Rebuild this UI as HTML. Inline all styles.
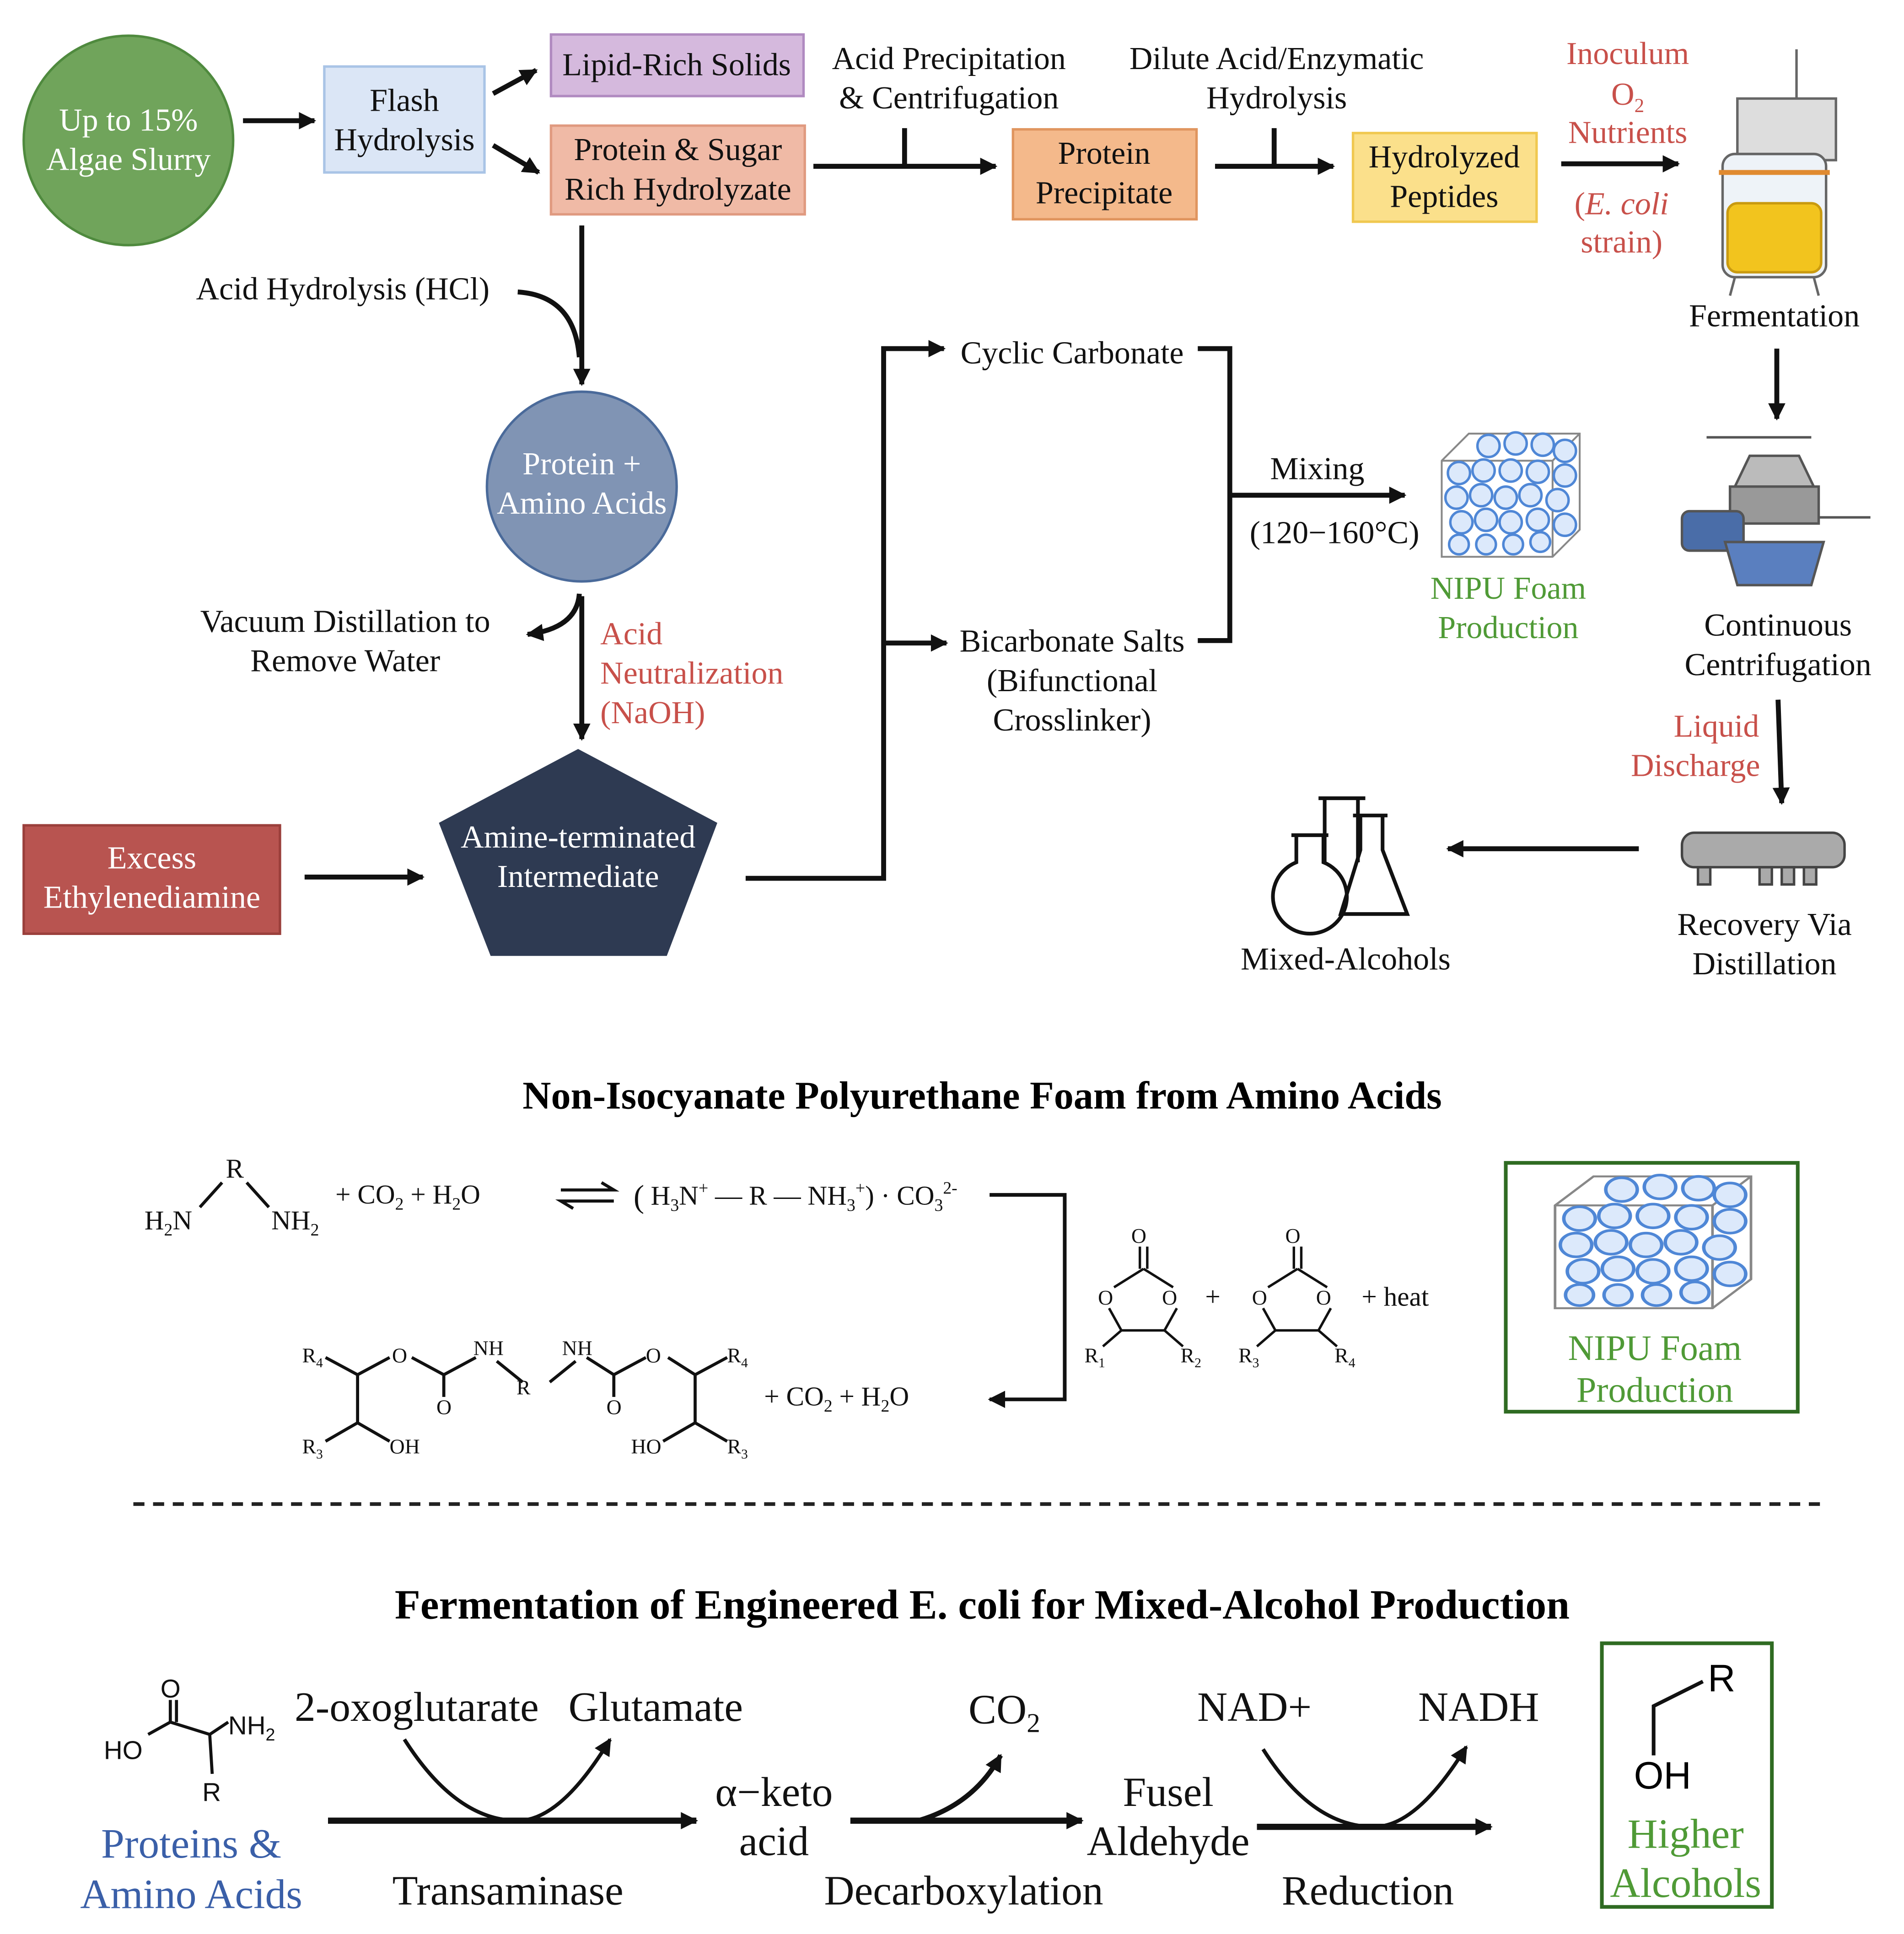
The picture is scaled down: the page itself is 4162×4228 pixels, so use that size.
<!DOCTYPE html>
<html><head><meta charset="utf-8"><style>
html,body{margin:0;padding:0;background:#fff;}
svg{display:block;}
text{font-family:"Liberation Serif",serif;}
</style></head><body>
<svg xmlns="http://www.w3.org/2000/svg" width="4162" height="4228" viewBox="0 0 1545 1570">
<defs>
<marker id="a2" viewBox="0 0 10 10" markerWidth="16" markerHeight="14" refX="9" refY="5" orient="auto" markerUnits="userSpaceOnUse"><path d="M0,0 L10,5 L0,10 Z" fill="#111"/></marker>
<g id="foam">
<path d="M0,22 L22,0 L112,0 L112,78 L90,100 L0,100 Z" fill="#fff" stroke="#888" stroke-width="1.5"/>
<path d="M0,22 L90,22 L112,0 M90,22 L90,100" fill="none" stroke="#888" stroke-width="1.5"/>
<g fill="#dce9fb" stroke="#4f87d6" stroke-width="2">
<circle cx="38" cy="10" r="9"/><circle cx="60" cy="8" r="9"/><circle cx="82" cy="9" r="9"/><circle cx="100" cy="14" r="9"/>
<circle cx="14" cy="32" r="9"/><circle cx="34" cy="30" r="9"/><circle cx="56" cy="30" r="9"/><circle cx="78" cy="31" r="9"/><circle cx="100" cy="34" r="9"/>
<circle cx="12" cy="52" r="9"/><circle cx="32" cy="50" r="9"/><circle cx="52" cy="52" r="9"/><circle cx="72" cy="50" r="9"/><circle cx="94" cy="54" r="9"/>
<circle cx="16" cy="72" r="9"/><circle cx="36" cy="70" r="9"/><circle cx="56" cy="72" r="9"/><circle cx="78" cy="70" r="9"/><circle cx="100" cy="74" r="9"/>
<circle cx="14" cy="90" r="8"/><circle cx="36" cy="90" r="8"/><circle cx="58" cy="90" r="8"/><circle cx="80" cy="88" r="8"/>
</g></g>
</defs>
<rect width="1560" height="1585" fill="#fff"/>

<g font-size="26" text-anchor="middle" fill="#111">
<circle cx="104" cy="114" r="85" fill="#70a45b" stroke="#4f8a3e" stroke-width="2"/>
<text x="104" y="106" fill="#fff">Up to 15%</text><text x="104" y="138" fill="#fff">Algae Slurry</text>
<line x1="197" y1="98" x2="255" y2="98" stroke="#111" stroke-width="4" marker-end="url(#a2)"/>
<rect x="263" y="54" width="130" height="86" fill="#dbe6f6" stroke="#a9c4e6" stroke-width="2"/>
<text x="328" y="90">Flash</text><text x="328" y="122">Hydrolysis</text>
<line x1="400" y1="76" x2="435" y2="57" stroke="#111" stroke-width="4" marker-end="url(#a2)"/>
<line x1="400" y1="118" x2="437" y2="140" stroke="#111" stroke-width="4" marker-end="url(#a2)"/>
<rect x="447" y="28" width="205" height="50" fill="#d5b9dd" stroke="#b08ac0" stroke-width="2"/>
<text x="549" y="61">Lipid-Rich Solids</text>
<rect x="447" y="102" width="206" height="72" fill="#f0baa6" stroke="#e09a80" stroke-width="2"/>
<text x="550" y="130">Protein &amp; Sugar</text><text x="550" y="162">Rich Hydrolyzate</text>
<text x="770" y="56">Acid Precipitation</text><text x="770" y="88">&amp; Centrifugation</text>
<line x1="660" y1="135" x2="808" y2="135" stroke="#111" stroke-width="4" marker-end="url(#a2)"/>
<line x1="734" y1="104" x2="734" y2="135" stroke="#111" stroke-width="4"/>
<rect x="822" y="105" width="149" height="73" fill="#f4b98b" stroke="#e0955f" stroke-width="2"/>
<text x="896" y="133">Protein</text><text x="896" y="165">Precipitate</text>
<text x="1036" y="56">Dilute Acid/Enzymatic</text><text x="1036" y="88">Hydrolysis</text>
<line x1="986" y1="135" x2="1082" y2="135" stroke="#111" stroke-width="4" marker-end="url(#a2)"/>
<line x1="1034" y1="104" x2="1034" y2="135" stroke="#111" stroke-width="4"/>
<rect x="1098" y="108" width="149" height="72" fill="#fbe08b" stroke="#f0c850" stroke-width="2"/>
<text x="1172" y="136">Hydrolyzed</text><text x="1172" y="168">Peptides</text>
<g fill="#c8504a">
<text x="1321" y="52">Inoculum</text><text x="1321" y="85">O<tspan font-size="16" dy="6">2</tspan></text><text x="1321" y="116">Nutrients</text>
<text x="1316" y="174">(<tspan font-style="italic">E. coli</tspan></text><text x="1316" y="205">strain)</text>
</g>
<line x1="1267" y1="133" x2="1362" y2="133" stroke="#111" stroke-width="4" marker-end="url(#a2)"/>
<g stroke="#666" stroke-width="2">
<line x1="1458" y1="40" x2="1458" y2="85"/>
<rect x="1410" y="80" width="80" height="50" fill="#ddd"/>
<rect x="1398" y="125" width="84" height="100" rx="10" fill="#eef3f8"/>
<rect x="1402" y="165" width="76" height="56" rx="8" fill="#f2c41e" stroke="#c99a10"/>
<line x1="1395" y1="140" x2="1485" y2="140" stroke="#e08a30" stroke-width="4"/>
<line x1="1408" y1="225" x2="1404" y2="240"/><line x1="1472" y1="225" x2="1476" y2="240"/>
</g>
<text x="1440" y="265">Fermentation</text>

<line x1="472" y1="183" x2="472" y2="312" stroke="#111" stroke-width="4" marker-end="url(#a2)"/>
<text x="278" y="243">Acid Hydrolysis (HCl)</text>
<path d="M420,237 Q466,240 470,290" fill="none" stroke="#111" stroke-width="4"/>
<circle cx="472" cy="395" r="77" fill="#8094b4" stroke="#4a6a9a" stroke-width="2"/>
<text x="472" y="385" fill="#fff">Protein +</text><text x="472" y="417" fill="#fff">Amino Acids</text>
<line x1="472" y1="484" x2="472" y2="600" stroke="#111" stroke-width="4" marker-end="url(#a2)"/>
<path d="M470,482 Q468,510 428,515" fill="none" stroke="#111" stroke-width="4" marker-end="url(#a2)"/>
<text x="280" y="513">Vacuum Distillation to</text><text x="280" y="545">Remove Water</text>
<g fill="#c8504a" text-anchor="start"><text x="487" y="523">Acid</text><text x="487" y="555">Neutralization</text><text x="487" y="587">(NaOH)</text></g>
<polygon points="469,608 582,668 541,776 398,776 356,668" fill="#2e3a52"/>
<text x="469" y="688" fill="#fff">Amine-terminated</text><text x="469" y="720" fill="#fff">Intermediate</text>
<rect x="19" y="670" width="208" height="88" fill="#b85450" stroke="#9a3f3b" stroke-width="2"/>
<text x="123" y="705" fill="#fff">Excess</text><text x="123" y="737" fill="#fff">Ethylenediamine</text>
<line x1="247" y1="712" x2="343" y2="712" stroke="#111" stroke-width="4" marker-end="url(#a2)"/>

<path d="M605,713 L717,713 L717,283 L766,283" fill="none" stroke="#111" stroke-width="4" marker-end="url(#a2)"/>
<line x1="717" y1="522" x2="768" y2="522" stroke="#111" stroke-width="4" marker-end="url(#a2)"/>
<text x="870" y="295">Cyclic Carbonate</text>
<text x="870" y="529">Bicarbonate Salts</text><text x="870" y="561">(Bifunctional</text><text x="870" y="593">Crosslinker)</text>
<path d="M972,283 L998,283 L998,520 L972,520" fill="none" stroke="#111" stroke-width="4"/>
<line x1="998" y1="402" x2="1140" y2="402" stroke="#111" stroke-width="4" marker-end="url(#a2)"/>
<text x="1069" y="389">Mixing</text><text x="1083" y="441">(120−160°C)</text>
<use href="#foam" x="1170" y="352"/>
<text x="1224" y="486" fill="#4f9a36">NIPU Foam</text><text x="1224" y="518" fill="#4f9a36">Production</text>

<line x1="1442" y1="283" x2="1442" y2="340" stroke="#111" stroke-width="4" marker-end="url(#a2)"/>
<g stroke="#555" stroke-width="2">
<line x1="1385" y1="355" x2="1470" y2="355"/>
<path d="M1420,370 L1460,370 L1472,395 L1408,395 Z" fill="#bbb"/>
<rect x="1404" y="395" width="72" height="30" fill="#999"/>
<rect x="1365" y="415" width="50" height="32" rx="6" fill="#4a6da8"/>
<path d="M1400,440 L1480,440 L1470,475 L1410,475 Z" fill="#5a7fbf"/>
<line x1="1476" y1="420" x2="1518" y2="420"/>
</g>
<text x="1443" y="516">Continuous</text><text x="1443" y="548">Centrifugation</text>
<text x="1393" y="598" fill="#c8504a">Liquid</text><text x="1376" y="630" fill="#c8504a">Discharge</text>
<line x1="1443" y1="568" x2="1446" y2="652" stroke="#111" stroke-width="4" marker-end="url(#a2)"/>
<g stroke="#444" stroke-width="2" fill="#aaa">
<rect x="1365" y="676" width="132" height="28" rx="10"/>
<rect x="1378" y="704" width="10" height="14"/><rect x="1428" y="704" width="10" height="14"/><rect x="1446" y="704" width="10" height="14"/><rect x="1464" y="704" width="10" height="14"/>
</g>
<text x="1432" y="759">Recovery Via</text><text x="1432" y="791">Distillation</text>
<line x1="1330" y1="689" x2="1175" y2="689" stroke="#111" stroke-width="4" marker-end="url(#a2)"/>
<g fill="none" stroke="#111" stroke-width="3">
<path d="M1070,648 L1108,648 M1075,648 L1075,700 M1102,648 L1102,700"/>
<path d="M1098,662 L1126,662 M1104,662 L1104,690 L1088,742 L1142,742 L1122,690 L1122,662"/>
<path d="M1048,678 L1078,678 M1052,678 L1052,700 A30,30 0 1,0 1074,700 L1074,678"/>
</g>
<text x="1092" y="787">Mixed-Alcohols</text>
</g>

<text x="797" y="900" font-size="32" font-weight="bold" text-anchor="middle">Non-Isocyanate Polyurethane Foam from Amino Acids</text>
<g font-size="22" fill="#111" stroke="none">
<text x="183" y="956">R</text>
<path d="M180,960 L162,980 M200,960 L218,980" stroke="#111" stroke-width="2.5"/>
<text x="117" y="998">H<tspan font-size="14" dy="5">2</tspan><tspan dy="-5">N</tspan></text>
<text x="220" y="998">NH<tspan font-size="14" dy="5">2</tspan></text>
<text x="272" y="977">+ CO<tspan font-size="14" dy="5">2</tspan><tspan dy="-5"> + H</tspan><tspan font-size="14" dy="5">2</tspan><tspan dy="-5">O</tspan></text>
<path d="M455,966 L498,966 L488,960 M498,975 L455,975 L465,981" fill="none" stroke="#111" stroke-width="2.5"/>
<text x="514" y="980" font-size="26">(</text>
<text x="528" y="978">H<tspan font-size="14" dy="5">3</tspan><tspan dy="-5">N</tspan><tspan font-size="14" dy="-9">+</tspan><tspan dy="9"> — R — NH</tspan><tspan font-size="14" dy="5">3</tspan><tspan font-size="14" dy="-14">+</tspan><tspan dy="9">)</tspan><tspan dy="0"> · CO</tspan><tspan font-size="14" dy="5">3</tspan><tspan font-size="14" dy="-14">2-</tspan></text>
<path d="M803,970 L864,970 L864,1136 L803,1136" fill="none" stroke="#111" stroke-width="3" marker-end="url(#a2)"/>
<g stroke="#111" stroke-width="2.5" fill="none">
<path d="M264,1102 L290,1116 L316,1102 M290,1116 L290,1155 L264,1170 M290,1155 L316,1170 M334,1102 L360,1116 L386,1102 M360,1116 L360,1134 M403,1105 L424,1122 M446,1122 L467,1105 M476,1102 L498,1116 L524,1102 M498,1116 L498,1134 M542,1102 L564,1116 L590,1102 M564,1116 L564,1155 L538,1170 M564,1155 L590,1170"/>
</g>
<text x="245" y="1106" font-size="17">R<tspan font-size="11" dy="4">4</tspan></text>
<text x="318" y="1106" font-size="17">O</text>
<text x="384" y="1100" font-size="17">NH</text>
<text x="354" y="1148" font-size="17">O</text>
<text x="419" y="1132" font-size="17">R</text>
<text x="456" y="1100" font-size="17">NH</text>
<text x="492" y="1148" font-size="17">O</text>
<text x="524" y="1106" font-size="17">O</text>
<text x="590" y="1106" font-size="17">R<tspan font-size="11" dy="4">4</tspan></text>
<text x="245" y="1180" font-size="17">R<tspan font-size="11" dy="4">3</tspan></text>
<text x="316" y="1180" font-size="17">OH</text>
<text x="512" y="1180" font-size="17">HO</text>
<text x="590" y="1180" font-size="17">R<tspan font-size="11" dy="4">3</tspan></text>
<text x="620" y="1141">+ CO<tspan font-size="14" dy="5">2</tspan><tspan dy="-5"> + H</tspan><tspan font-size="14" dy="5">2</tspan><tspan dy="-5">O</tspan></text>
<g stroke="#111" stroke-width="2" fill="none">
<path d="M925,1012 L925,1030 M931,1012 L931,1030 M928,1030 L904,1045 M928,1030 L952,1045 M900,1062 L910,1080 L945,1080 L955,1062 M910,1080 L895,1093 M945,1080 L960,1093"/>
<path d="M1050,1012 L1050,1030 M1056,1012 L1056,1030 M1053,1030 L1029,1045 M1053,1030 L1077,1045 M1025,1062 L1035,1080 L1070,1080 L1080,1062 M1035,1080 L1020,1093 M1070,1080 L1085,1093"/>
</g>
<text x="918" y="1009" font-size="17">O</text><text x="891" y="1059" font-size="17">O</text><text x="943" y="1059" font-size="17">O</text>
<text x="880" y="1106" font-size="17">R<tspan font-size="11" dy="4">1</tspan></text><text x="958" y="1106" font-size="17">R<tspan font-size="11" dy="4">2</tspan></text>
<text x="1043" y="1009" font-size="17">O</text><text x="1016" y="1059" font-size="17">O</text><text x="1068" y="1059" font-size="17">O</text>
<text x="1005" y="1106" font-size="17">R<tspan font-size="11" dy="4">3</tspan></text><text x="1083" y="1106" font-size="17">R<tspan font-size="11" dy="4">4</tspan></text>
<text x="978" y="1060">+</text><text x="1105" y="1060">+  heat</text>
</g>
<rect x="1222" y="944" width="237" height="202" fill="none" stroke="#2f6b22" stroke-width="3"/>
<use href="#foam" transform="translate(1262,955) scale(1.42,1.07)"/>
<text x="1343" y="1104" font-size="29" text-anchor="middle" fill="#4f9a36">NIPU Foam</text>
<text x="1343" y="1138" font-size="29" text-anchor="middle" fill="#4f9a36">Production</text>
<line x1="108" y1="1221" x2="1478" y2="1221" stroke="#222" stroke-width="3" stroke-dasharray="9,7"/>

<text x="797" y="1314" font-size="34" font-weight="bold" text-anchor="middle">Fermentation of Engineered E. coli for Mixed-Alcohol Production</text>
<g fill="#111">
<path d="M120,1408 L138,1398 L170,1408 L185,1398 M138,1398 L138,1380 M143,1398 L143,1380 M170,1408 L172,1440" stroke="#111" stroke-width="2.5" fill="none"/>
<text x="130" y="1378" font-size="21" style="font-family:'Liberation Sans',sans-serif">O</text>
<text x="84" y="1428" font-size="21" style="font-family:'Liberation Sans',sans-serif">HO</text>
<text x="185" y="1408" font-size="21" style="font-family:'Liberation Sans',sans-serif">NH<tspan font-size="14" dy="5">2</tspan></text>
<text x="164" y="1462" font-size="21" style="font-family:'Liberation Sans',sans-serif">R</text>
</g>
<g font-size="34" text-anchor="middle" fill="#111">
<text x="155" y="1508" fill="#3a5fa8">Proteins &amp;</text><text x="155" y="1549" fill="#3a5fa8">Amino Acids</text>
<text x="338" y="1397">2-oxoglutarate</text><text x="532" y="1397">Glutamate</text>
<line x1="266" y1="1478" x2="565" y2="1478" stroke="#111" stroke-width="5" marker-end="url(#a2)"/>
<path d="M328,1412 Q370,1478 420,1478 Q455,1478 495,1412" fill="none" stroke="#111" stroke-width="3" marker-end="url(#a2)"/>
<text x="412" y="1546">Transaminase</text>
<text x="628" y="1466">α−keto</text><text x="628" y="1506">acid</text>
<line x1="690" y1="1478" x2="878" y2="1478" stroke="#111" stroke-width="5" marker-end="url(#a2)"/>
<path d="M745,1478 Q790,1465 812,1425" fill="none" stroke="#111" stroke-width="4" marker-end="url(#a2)"/>
<text x="815" y="1399">CO<tspan font-size="22" dy="7">2</tspan></text>
<text x="782" y="1546">Decarboxylation</text>
<text x="948" y="1466">Fusel</text><text x="948" y="1506">Aldehyde</text>
<line x1="1020" y1="1483" x2="1210" y2="1483" stroke="#111" stroke-width="5" marker-end="url(#a2)"/>
<path d="M1025,1420 Q1065,1483 1115,1483 Q1150,1483 1190,1418" fill="none" stroke="#111" stroke-width="3" marker-end="url(#a2)"/>
<text x="1018" y="1397">NAD+</text><text x="1200" y="1397">NADH</text>
<text x="1110" y="1546">Reduction</text>
</g>
<rect x="1300" y="1334" width="138" height="214" fill="none" stroke="#2f6b22" stroke-width="3"/>
<path d="M1342,1425 L1342,1385 L1382,1365" fill="none" stroke="#111" stroke-width="3"/>
<text x="1386" y="1373" font-size="31" style="font-family:'Liberation Sans',sans-serif">R</text>
<text x="1326" y="1452" font-size="31" style="font-family:'Liberation Sans',sans-serif">OH</text>
<text x="1368" y="1500" font-size="34" text-anchor="middle" fill="#4f9a36">Higher</text>
<text x="1368" y="1540" font-size="34" text-anchor="middle" fill="#4f9a36">Alcohols</text>
</svg>
</body></html>
